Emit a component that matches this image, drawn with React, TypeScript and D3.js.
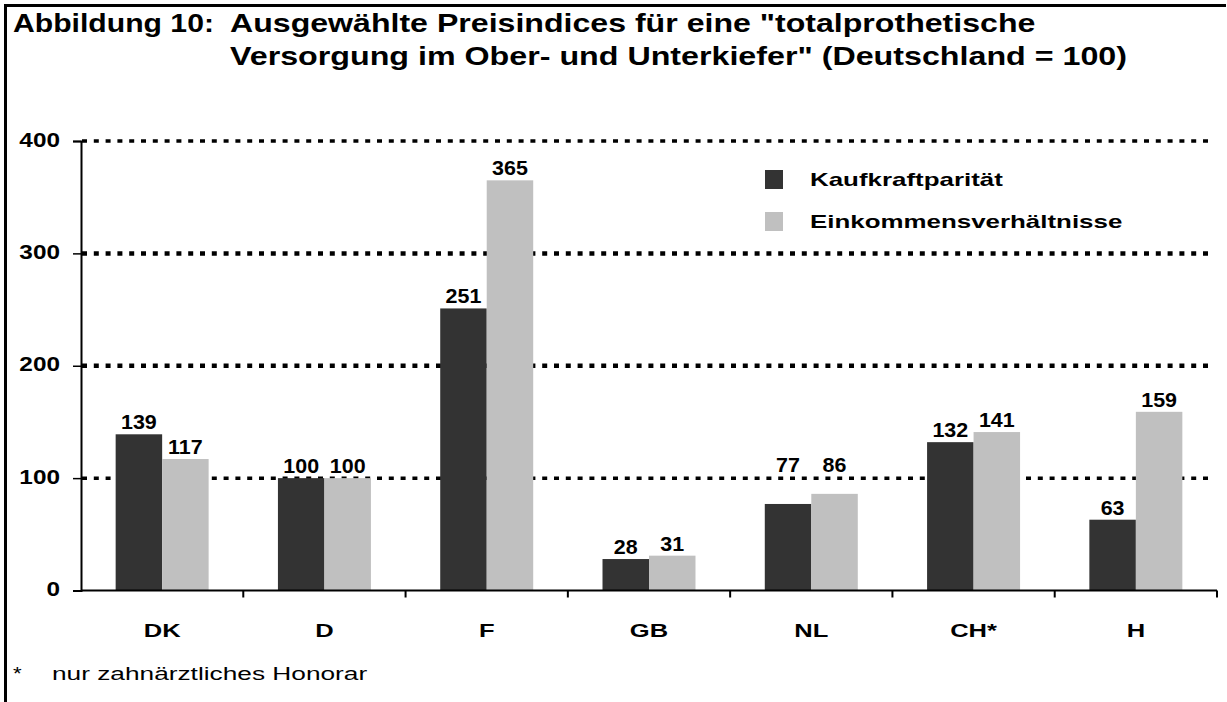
import React, { useRef, useEffect } from "react";
import * as d3 from "d3";

// Daten
const countries = ["DK", "D", "F", "GB", "NL", "CH*", "H"];
const seriesNames = ["Kaufkraftparität", "Einkommensverhältnisse"];
const kaufkraft = [139, 100, 251, 28, 77, 132, 63];
const einkommen = [117, 100, 365, 31, 86, 141, 159];
const yTicks = [0, 100, 200, 300, 400];
const titlePrefix = "Abbildung 10:";
const titleLine1 = 'Ausgewählte Preisindices für eine "totalprothetische';
const titleLine2 = 'Versorgung im Ober- und Unterkiefer" (Deutschland = 100)';
const footnote = "nur zahnärztliches Honorar";

const colors = ["#333333", "#c0c0c0"];

const App = () => {
    const svgRef = useRef<SVGSVGElement | null>(null);

    useEffect(() => {
        if (!svgRef.current) return;
        const W = 1227;
        const H = 702;
        const font = "'Liberation Sans', Arial, sans-serif";

        const svg = d3.select(svgRef.current).attr("width", W).attr("height", H);
        svg.selectAll("*").remove();

        // Text mit horizontaler Streckung (Original wirkt breit gezogen)
        const addText = (
            parent: any,
            px: number,
            py: number,
            str: string | number,
            size: number,
            sx: number,
            anchor = "start",
            weight = "bold"
        ) =>
            parent
                .append("text")
                .attr("transform", `translate(${px},${py}) scale(${sx},1)`)
                .attr("text-anchor", anchor)
                .style("font-family", font)
                .style("font-weight", weight)
                .style("font-size", `${size}px`)
                .attr("fill", "#000")
                .text(str);

        // Rahmen
        svg.append("line")
            .attr("x1", 4).attr("x2", 1226).attr("y1", 5.5).attr("y2", 5.5)
            .attr("stroke", "#000").attr("stroke-width", 3);
        svg.append("line")
            .attr("x1", 5.5).attr("x2", 5.5).attr("y1", 4).attr("y2", H)
            .attr("stroke", "#000").attr("stroke-width", 3);

        // Titel
        addText(svg, 13, 32, titlePrefix, 26, 1.16);
        addText(svg, 230, 32, titleLine1, 26, 1.235);
        addText(svg, 230, 65, titleLine2, 26, 1.24);

        const margin = { left: 81, right: 1217, top: 141, bottom: 590.5 };

        const x = d3.scaleBand<string>()
            .domain(countries)
            .range([margin.left, margin.right])
            .padding(0);
        const bw = x.bandwidth();
        const groupW = bw * 0.573;
        const x1 = d3.scaleBand<string>()
            .domain(seriesNames)
            .range([(bw - groupW) / 2, (bw + groupW) / 2])
            .padding(0);

        const y = d3.scaleLinear().domain([0, 400]).range([margin.bottom, margin.top]);
        const gridVals = yTicks.filter((t) => t > 0);

        // Gitterlinien
        svg.append("g")
            .selectAll("line")
            .data(gridVals)
            .enter()
            .append("line")
            .attr("x1", margin.left + 1)
            .attr("x2", 1212)
            .attr("y1", (d) => y(d))
            .attr("y2", (d) => y(d))
            .attr("stroke", "#000")
            .attr("stroke-width", (d) => (d === 200 || d === 300 ? 4.5 : 3.5))
            .attr("stroke-dasharray", "5 6.8");

        // Balken
        const allSeries = [kaufkraft, einkommen];
        const bars = svg.append("g");
        allSeries.forEach((vals, si) => {
            bars.selectAll(".bar-" + si)
                .data(vals)
                .enter()
                .append("rect")
                .attr("x", (d, i) => (x(countries[i]) as number) + (x1(seriesNames[si]) as number))
                .attr("y", (d) => y(d))
                .attr("width", x1.bandwidth())
                .attr("height", (d) => y(0) - y(d))
                .attr("fill", colors[si]);
        });

        // Werte (über Gitterlinie gehoben, falls sie kollidieren)
        const labels = svg.append("g");
        countries.forEach((c, i) => {
            let bases = allSeries.map((vals) => y(vals[i]) - 5);
            const hit = gridVals.find((g) =>
                bases.some((b) => y(g) > b - 15 && y(g) < b + 2)
            );
            if (hit !== undefined) bases = bases.map(() => y(hit) - 6);
            allSeries.forEach((vals, si) => {
                const cx = (x(c) as number) + (x1(seriesNames[si]) as number) + x1.bandwidth() / 2;
                addText(labels, cx, bases[si], vals[i], 19.5, 1.1, "middle");
            });
        });

        // Y-Achse
        const yAxis = svg.append("g")
            .attr("transform", `translate(${margin.left},0)`)
            .call(d3.axisLeft(y).tickValues(yTicks).tickSize(8).tickFormat(() => ""));
        yAxis.select(".domain").attr("stroke-width", 2);
        yAxis.selectAll(".tick line").attr("stroke-width", 1.5);
        const yLabels = svg.append("g");
        yTicks.forEach((t) => {
            addText(yLabels, 60, y(t) + 5.7, t, 21, 1.16, "end");
        });

        // X-Achse
        const xAxisG = svg.append("g");
        xAxisG.append("line")
            .attr("x1", margin.left).attr("x2", margin.right)
            .attr("y1", y(0)).attr("y2", y(0))
            .attr("stroke", "#000").attr("stroke-width", 2);
        xAxisG.selectAll(".xt")
            .data(countries)
            .enter()
            .append("line")
            .attr("x1", (d) => (x(d) as number) + bw)
            .attr("x2", (d) => (x(d) as number) + bw)
            .attr("y1", y(0))
            .attr("y2", y(0) + 7)
            .attr("stroke", "#000")
            .attr("stroke-width", 2);
        countries.forEach((c) => {
            addText(xAxisG, (x(c) as number) + bw / 2, 636.5, c, 18.5, 1.38, "middle");
        });

        // Legende
        const legend = svg.append("g").attr("transform", "translate(765,170)");
        seriesNames.forEach((name, i) => {
            legend.append("rect")
                .attr("x", 0)
                .attr("y", i * 42)
                .attr("width", 18)
                .attr("height", 19)
                .attr("fill", colors[i]);
            addText(legend, 45, i * 42 + 15.5, name, 18.5, 1.4);
        });

        // Fußnote
        addText(svg, 13, 680, "*", 18.5, 1.2, "start", "normal");
        addText(svg, 52, 680, footnote, 18.5, 1.42, "start", "normal");
    }, []);

    return (
        <svg
            ref={svgRef}
            style={{ position: "absolute", left: 0, top: 0, background: "#fff" }}
        ></svg>
    );
};

export default App;
